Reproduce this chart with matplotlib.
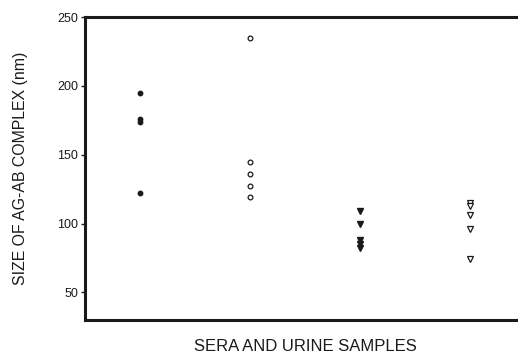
import matplotlib; matplotlib.use("Agg")
import matplotlib.pyplot as plt

plt.rcParams.update({"font.family": ["Liberation Sans", "DejaVu Sans"]})

# sample groups (x position) and measured complex sizes (nm)
group_pos = [1, 2, 3, 4]
sera_a = [195, 176, 174, 122]
sera_b = [235, 145, 136, 127, 119]
urine_a = [109, 100, 88, 85, 82]
urine_b = [115, 113, 106, 96, 74]
yticks = [50, 100, 150, 200, 250]

fig = plt.figure(figsize=(5.18, 3.58), dpi=100)
ax = fig.add_axes([85/518, 38/358, 440/518, 303/358])

K = "#1a1a1a"
ax.plot([group_pos[0]]*len(sera_a), sera_a, "o", ms=3.2, color=K, mec=K)
ax.plot([group_pos[1]]*len(sera_b), sera_b, "o", ms=3.4, mfc="white", mec=K, mew=0.9)
ax.plot([group_pos[2]]*len(urine_a), urine_a, "v", ms=3.8, color=K, mec=K)
ax.plot([group_pos[3]]*len(urine_b), urine_b, "v", ms=3.8, mfc="white", mec=K, mew=0.9)

ax.set_xlim(0.5, 4.5)
ax.set_ylim(30, 250)
ax.set_yticks(yticks)
ax.set_xticks([])
ax.tick_params(axis="y", direction="out", length=3, width=1, labelsize=9, colors=K, pad=2)
for s in ["left", "top", "bottom"]:
    ax.spines[s].set_linewidth(2.2)
    ax.spines[s].set_color(K)
ax.spines["right"].set_visible(False)

ax.set_ylabel("SIZE OF AG-AB COMPLEX (nm)", fontsize=11.4, color=K, labelpad=21)
ax.set_xlabel("SERA AND URINE SAMPLES", fontsize=12, color=K, labelpad=14)

fig.savefig("out.png", dpi=100, facecolor="white")
